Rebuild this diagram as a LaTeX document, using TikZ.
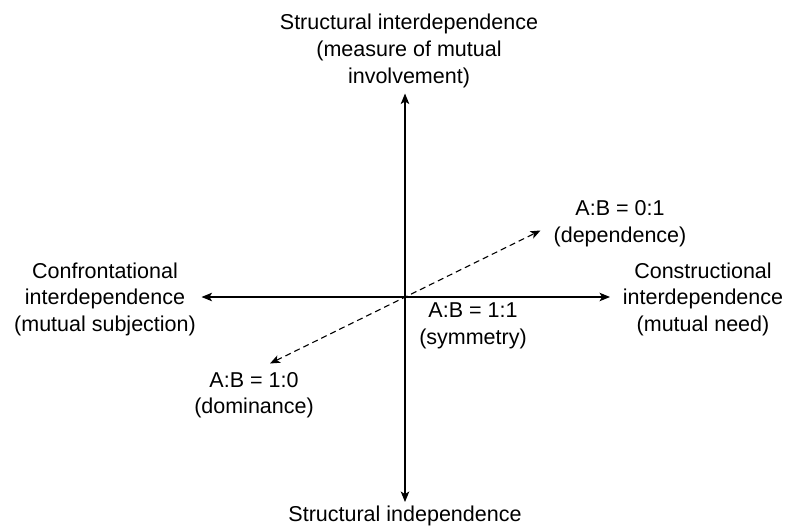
\documentclass[tikz,border=0pt]{standalone}
\usepackage{fontspec}
\setmainfont{Liberation Sans}
\usetikzlibrary{arrows.meta}
\begin{document}
\begin{tikzpicture}[x=1pt,y=-1pt,
  lbl/.style={inner sep=0pt,align=center,font=\fontsize{21.5}{26.8}\selectfont},
  axis/.style={line width=1.2pt,{Stealth[length=10.5pt,width=8.5pt,inset=2.5pt]}-{Stealth[length=10.5pt,width=8.5pt,inset=2.5pt]}},
  diag/.style={line width=1.1pt,dash pattern=on 6pt off 4pt,{Stealth[length=10pt,width=8pt,inset=2.5pt]}-{Stealth[length=10pt,width=8pt,inset=2.5pt]}}]
\useasboundingbox (0,0) rectangle (786,530);
\coordinate (O) at (405,297);
\coordinate (ttip) at (405,93.5);
\coordinate (btip) at (405,502);
\coordinate (ltip) at (201.5,297);
\coordinate (rtip) at (610,297);
\coordinate (dtip) at (540.5,230.5);
\coordinate (mtip) at (270,363.5);
\node[lbl,anchor=north] (top) at (409,13.9) {Structural interdependence\\(measure of mutual\\involvement)};
\node[lbl,anchor=north] (left) at (105,262.4) {Confrontational\\interdependence\\(mutual subjection)};
\node[lbl,anchor=north] (right) at (703,262.4) {Constructional\\interdependence\\(mutual need)};
\node[lbl,anchor=north] (dep) at (620,200.6) {A:B = 0:1\\(dependence)};
\node[lbl,anchor=north] (sym) at (473,302.4) {A:B = 1:1\\(symmetry)};
\node[lbl,anchor=north,font=\fontsize{21.5}{25.5}\selectfont] (dom) at (254,372.6) {A:B = 1:0\\(dominance)};
\node[lbl,anchor=base] (bot) at (405,521.5) {Structural independence};
\draw[axis] (btip) -- (ttip);
\draw[axis] (ltip) -- (rtip);
\draw[diag] (mtip) -- (dtip);
\end{tikzpicture}
\end{document}
